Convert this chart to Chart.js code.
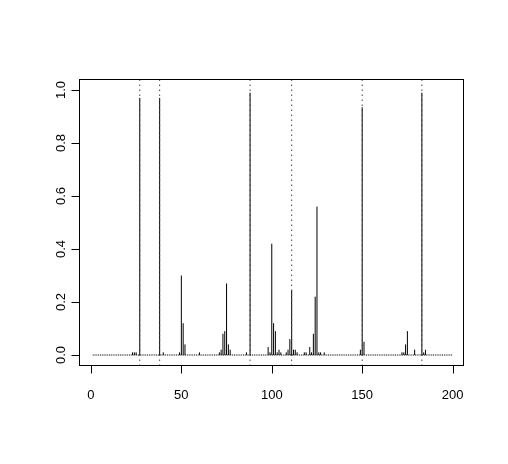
<!DOCTYPE html>
<html lang="en">
<head>
    <meta charset="UTF-8">
    <title>Spike plot</title>
    <script src="https://cdn.jsdelivr.net/npm/chart.js"></script>
    <style>
        body { margin: 0; background: #fff; }
        #wrap { width: 508px; height: 464px; }
    </style>
</head>
<body>
    <div id="wrap"><canvas id="spikes" width="508" height="464"></canvas></div>
    <script>
        // spike positions and heights
        const xVals = [23, 24, 25, 27, 38, 40, 49, 50, 51, 52, 60, 71, 72, 73, 74, 75, 76, 77, 86, 88,
            98, 99, 100, 101, 102, 103, 104, 105, 108, 109, 110, 111, 112, 113, 114, 118, 119,
            121, 122, 123, 124, 125, 126, 127, 129, 149, 150, 151, 172, 173, 174, 175, 179, 183, 184, 185];
        const yVals = [0.01, 0.01, 0.01, 0.97, 0.97, 0.01, 0.01, 0.30, 0.12, 0.04, 0.01, 0.01, 0.02, 0.08, 0.09, 0.27, 0.04, 0.02, 0.01, 0.99,
            0.03, 0.01, 0.42, 0.12, 0.09, 0.01, 0.02, 0.01, 0.01, 0.02, 0.06, 0.245, 0.02, 0.02, 0.01, 0.01, 0.01,
            0.03, 0.01, 0.08, 0.22, 0.56, 0.01, 0.01, 0.01, 0.02, 0.935, 0.05, 0.01, 0.01, 0.04, 0.09, 0.02, 0.99, 0.01, 0.02];
        const markLines = [27, 38, 88, 111, 150, 183];
        const baseRange = [1, 200];
        const xTicks = [0, 50, 100, 150, 200];
        const yTicks = [0, 0.2, 0.4, 0.6, 0.8, 1.0];
        const xLim = [-6.6, 206.3];
        const yLim = [-0.0415, 1.0415];

        // type="h" style: each spike is a vertical segment from 0
        const spikeData = [];
        xVals.forEach((x, i) => {
            spikeData.push({ x: x, y: 0 }, { x: x, y: yVals[i] }, { x: x, y: null });
        });
        const markData = [];
        markLines.forEach(x => {
            markData.push({ x: x, y: yLim[0] }, { x: x, y: yLim[1] }, { x: x, y: null });
        });
        const baseData = [{ x: baseRange[0], y: 0 }, { x: baseRange[1], y: 0 }];

        const FONT = '13px "Liberation Sans", Arial, sans-serif';

        const rAxes = {
            id: 'rAxes',
            afterDraw(chart) {
                const c = chart.ctx, a = chart.chartArea;
                const xs = chart.scales.x, ys = chart.scales.y;
                c.save();
                c.strokeStyle = '#000';
                c.lineWidth = 1;
                c.strokeRect(Math.round(a.left) + 0.5, Math.round(a.top) + 0.5,
                    Math.round(a.right - a.left) - 1, Math.round(a.bottom - a.top) - 1);
                c.fillStyle = '#000';
                c.font = FONT;
                // x axis
                const by = Math.round(a.bottom) - 0.5;
                c.beginPath();
                xTicks.forEach(t => {
                    const px = Math.round(xs.getPixelForValue(t)) + 0.5;
                    c.moveTo(px, by); c.lineTo(px, by + 8);
                });
                c.stroke();
                c.textAlign = 'center';
                c.textBaseline = 'middle';
                xTicks.forEach(t => c.fillText(String(t), xs.getPixelForValue(t), 395));
                // y axis
                const lx = Math.round(a.left) + 0.5;
                c.beginPath();
                yTicks.forEach(t => {
                    const py = Math.round(ys.getPixelForValue(t)) + 0.5;
                    c.moveTo(lx, py); c.lineTo(lx - 8, py);
                });
                c.stroke();
                yTicks.forEach(t => {
                    c.save();
                    c.translate(61, ys.getPixelForValue(t));
                    c.rotate(-Math.PI / 2);
                    c.fillText(t.toFixed(1), 0, 0);
                    c.restore();
                });
                c.restore();
            }
        };

        new Chart(document.getElementById('spikes'), {
            type: 'line',
            data: {
                datasets: [
                    { data: baseData, borderColor: '#000', borderWidth: 1, borderDash: [1, 0.81], pointRadius: 0 },
                    { data: markData, borderColor: '#444', borderWidth: 1, borderDash: [1.5, 3.5], pointRadius: 0 },
                    { data: spikeData, borderColor: '#000', borderWidth: 1, pointRadius: 0 }
                ]
            },
            options: {
                responsive: false,
                animation: false,
                devicePixelRatio: 1,
                spanGaps: false,
                layout: { padding: { left: 79, top: 79, right: 44, bottom: 98 } },
                elements: { line: { tension: 0 } },
                plugins: { legend: { display: false }, tooltip: { enabled: false } },
                scales: {
                    x: { type: 'linear', min: xLim[0], max: xLim[1], display: false },
                    y: { type: 'linear', min: yLim[0], max: yLim[1], display: false }
                }
            },
            plugins: [rAxes]
        });
    </script>
</body>
</html>
